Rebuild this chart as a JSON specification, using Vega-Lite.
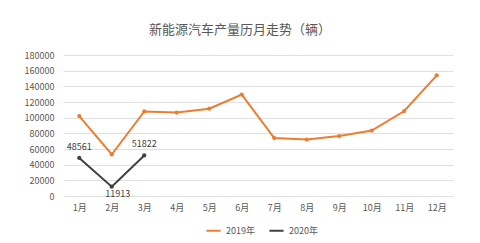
{
  "$schema": "https://vega.github.io/schema/vega-lite/v6.json",
  "autosize": {"type": "none"},
  "width": 390,
  "height": 141,
  "padding": {"left": 63, "top": 55, "right": 27, "bottom": 47},
  "background": "white",
  "config": {
    "font": "Noto Sans CJK SC",
    "view": {"stroke": null},
    "axis": {"labelFont": "Noto Sans CJK SC", "labelColor": "#595959", "labelFontSize": 9}
  },
  "title": {
    "text": "新能源汽车产量历月走势（辆）",
    "fontSize": 13,
    "fontWeight": "normal",
    "color": "#595959",
    "anchor": "middle",
    "dx": -18,
    "offset": 14
  },
  "data": {
    "values": [
      {"month": "1月", "series": "2019年", "value": 102000},
      {"month": "2月", "series": "2019年", "value": 53000},
      {"month": "3月", "series": "2019年", "value": 108000},
      {"month": "4月", "series": "2019年", "value": 106500},
      {"month": "5月", "series": "2019年", "value": 111500},
      {"month": "6月", "series": "2019年", "value": 129500},
      {"month": "7月", "series": "2019年", "value": 74000},
      {"month": "8月", "series": "2019年", "value": 72000},
      {"month": "9月", "series": "2019年", "value": 76500},
      {"month": "10月", "series": "2019年", "value": 83500},
      {"month": "11月", "series": "2019年", "value": 108500},
      {"month": "12月", "series": "2019年", "value": 154000},
      {"month": "1月", "series": "2020年", "value": 48561},
      {"month": "2月", "series": "2020年", "value": 11913},
      {"month": "3月", "series": "2020年", "value": 51822}
    ]
  },
  "encoding": {
    "x": {
      "field": "month", "type": "ordinal",
      "sort": ["1月","2月","3月","4月","5月","6月","7月","8月","9月","10月","11月","12月"],
      "axis": {"title": null, "labelAngle": 0, "domain": false, "ticks": false, "labelPadding": 7, "grid": false}
    },
    "y": {
      "field": "value", "type": "quantitative",
      "scale": {"domain": [0, 180000]},
      "axis": {"title": null, "format": "d", "labelOverlap": false, "values": [0,20000,40000,60000,80000,100000,120000,140000,160000,180000], "domain": false, "ticks": false, "labelPadding": 9, "gridColor": "#e0e0e0", "gridWidth": 1}
    },
    "color": {
      "field": "series", "type": "nominal",
      "scale": {"domain": ["2019年", "2020年"], "range": ["#ED7D31", "#404040"]},
      "legend": {
        "title": null, "orient": "none", "direction": "horizontal",
        "legendX": 142, "legendY": 167,
        "symbolType": "stroke", "symbolStrokeWidth": 2, "symbolSize": 200,
        "labelFontSize": 9, "labelColor": "#595959", "columnPadding": 10
      }
    }
  },
  "layer": [
    {"mark": {"type": "line", "strokeWidth": 2, "point": {"size": 18, "filled": true}}},
    {
      "transform": [{"filter": "datum.series === '2020年' && datum.month !== '2月'"}],
      "mark": {"type": "text", "dy": -11, "fontSize": 9, "color": "#404040"},
      "encoding": {"text": {"field": "value", "type": "quantitative", "format": "d"}, "color": {"value": "#404040"}}
    },
    {
      "transform": [{"filter": "datum.series === '2020年' && datum.month === '2月'"}],
      "mark": {"type": "text", "dy": 7, "dx": 6, "fontSize": 9, "color": "#404040"},
      "encoding": {"text": {"field": "value", "type": "quantitative", "format": "d"}, "color": {"value": "#404040"}}
    }
  ]
}
